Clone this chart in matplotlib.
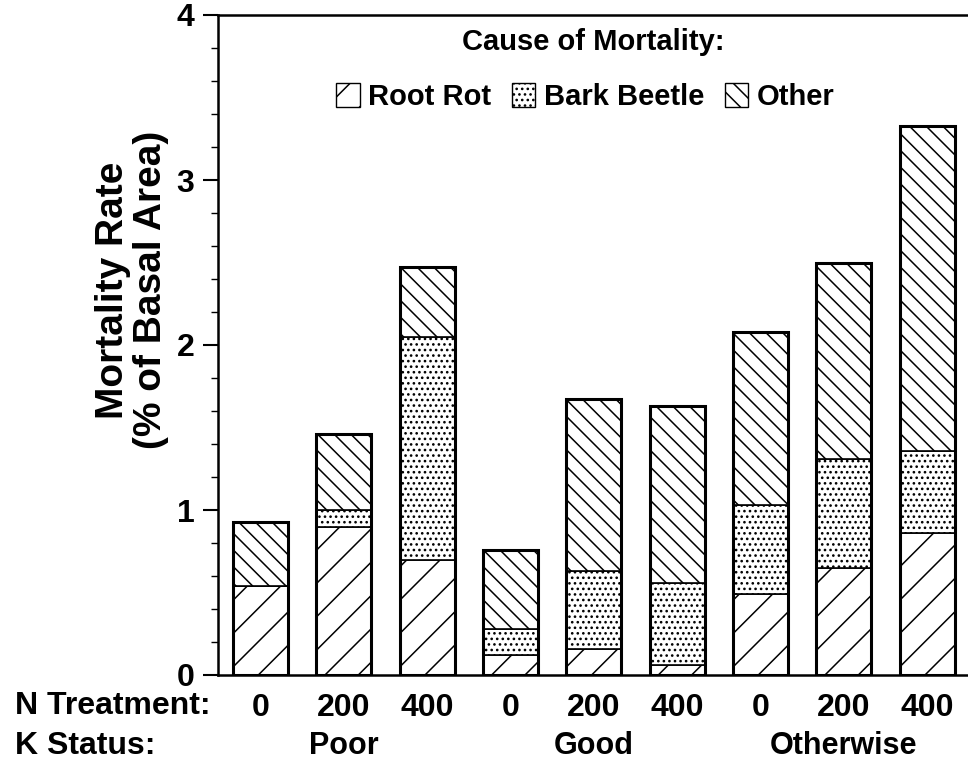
import matplotlib
matplotlib.use("Agg")
import matplotlib.pyplot as plt
import numpy as np
from matplotlib.ticker import MultipleLocator
from matplotlib.patches import Patch
from matplotlib.transforms import blended_transform_factory

# data (% of basal area)
n_treatment = ["0", "200", "400", "0", "200", "400", "0", "200", "400"]
k_status = ["Poor", "Good", "Otherwise"]
root_rot = [0.54, 0.90, 0.70, 0.12, 0.16, 0.06, 0.49, 0.65, 0.86]
bark_beetle = [0.00, 0.10, 1.35, 0.16, 0.47, 0.50, 0.54, 0.66, 0.50]
other = [0.39, 0.46, 0.42, 0.48, 1.04, 1.07, 1.05, 1.19, 1.97]

plt.rcParams['font.family'] = ['Liberation Sans', 'DejaVu Sans']
plt.rcParams['font.weight'] = 'bold'
plt.rcParams['hatch.linewidth'] = 1.1

fig = plt.figure(figsize=(9.68, 7.64), dpi=100)
ax = fig.add_axes([218 / 968, 1 - 675 / 764, 1 - 218 / 968, 660 / 764])

x = np.arange(len(n_treatment))
w = 0.66
root = np.array(root_rot)
bark = np.array(bark_beetle)
oth = np.array(other)

ax.bar(x, root, w, color='white', edgecolor='black', linewidth=1.2, hatch='/')
ax.bar(x, bark, w, bottom=root, color='white', edgecolor='black', linewidth=1.2, hatch='...')
ax.bar(x, oth, w, bottom=root + bark, color='white', edgecolor='black', linewidth=1.2, hatch='\\\\')
# heavier outline round each stacked bar
ax.bar(x, root + bark + oth, w, fill=False, edgecolor='black', linewidth=2.2)

ax.set_xlim(-0.51, 8.49)
ax.set_ylim(0, 4)
ax.yaxis.set_major_locator(MultipleLocator(1))
ax.yaxis.set_minor_locator(MultipleLocator(0.2))
ax.tick_params(axis='y', which='major', length=11, width=1.5, pad=6, labelsize=23)
ax.tick_params(axis='y', which='minor', length=5, width=1.0)
ax.set_xticks(x)
ax.set_xticklabels(n_treatment)
ax.tick_params(axis='x', length=0, pad=13, labelsize=23)
ax.spines['right'].set_visible(False)
for s in ['left', 'top', 'bottom']:
    ax.spines[s].set_linewidth(1.8)

fig.text(132 / 968, 1 - 290 / 764, "Mortality Rate\n(% of Basal Area)",
         rotation=90, ha='center', va='center', multialignment='center',
         fontsize=28, fontweight='bold', linespacing=1.05)

fig.text(15 / 968, 1 - 706 / 764, "N Treatment:", fontsize=23, va='center', ha='left')
fig.text(15 / 968, 1 - 746 / 764, "K Status:", fontsize=23, va='center', ha='left')
trans = blended_transform_factory(ax.transData, fig.transFigure)
for i, lab in enumerate(k_status):
    ax.text(3 * i + 1, 1 - 746 / 764, lab, transform=trans, ha='center', va='center', fontsize=22)

# legend title drawn separately so the gap to the entries matches
ax.text(0.5, 1 - 27 / 660, "Cause of Mortality:", transform=ax.transAxes,
        ha='center', va='center', fontsize=21)
handles = [Patch(facecolor='white', edgecolor='black', hatch='/', label='Root Rot'),
           Patch(facecolor='white', edgecolor='black', hatch='...', label='Bark Beetle'),
           Patch(facecolor='white', edgecolor='black', hatch='\\\\', label='Other')]
ax.legend(handles=handles, ncol=3, frameon=False,
          loc='center', bbox_to_anchor=(0.49, 1 - 82 / 660), fontsize=21,
          handlelength=0.8, handleheight=0.9,
          handletextpad=0.3, columnspacing=0.7, borderpad=0.2)

fig.savefig("out.png", dpi=100)
